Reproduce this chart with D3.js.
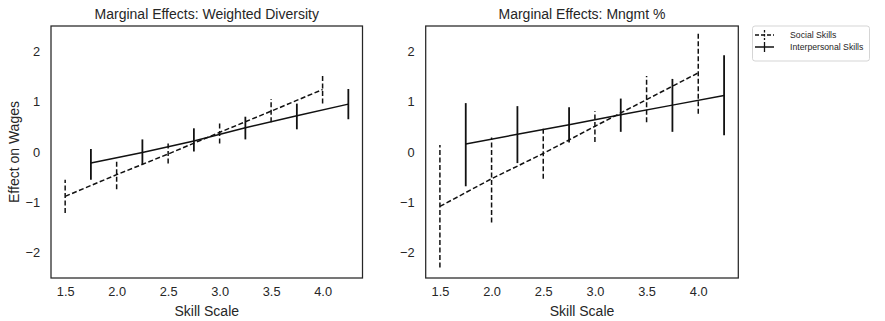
<!DOCTYPE html>
<html>
  <head>
    <script src="https://d3js.org/d3.v7.min.js"></script>
    <style>
      body,
      html {
        margin: 0;
        padding: 0;
        background: #fff;
        font-family: "Liberation Sans", Arial, sans-serif;
        overflow: hidden;
      }
    </style>
  </head>
  <body>
    <svg id="chart" width="885" height="321"></svg>
    <script>
      // skill scale positions for each series
      var socialX = [1.5, 2.0, 2.5, 3.0, 3.5, 4.0];
      var interX = [1.75, 2.25, 2.75, 3.25, 3.75, 4.25];

      // panel 1: weighted diversity
      var divSocial = [-0.88, -0.45, -0.04, 0.39, 0.81, 1.24];
      var divSocialLo = [-1.21, -0.74, -0.23, 0.17, 0.59, 0.96];
      var divSocialHi = [-0.55, -0.18, 0.19, 0.61, 1.05, 1.51];
      var divInter = [-0.22, -0.01, 0.22, 0.48, 0.72, 0.95];
      var divInterLo = [-0.55, -0.25, 0.01, 0.25, 0.45, 0.65];
      var divInterHi = [0.06, 0.25, 0.47, 0.7, 0.96, 1.25];

      // panel 2: mngmt %
      var mgSocial = [-1.08, -0.53, -0.03, 0.51, 1.04, 1.57];
      var mgSocialLo = [-2.29, -1.4, -0.53, 0.2, 0.59, 0.76];
      var mgSocialHi = [0.14, 0.29, 0.48, 0.81, 1.51, 2.37];
      var mgInter = [0.16, 0.35, 0.54, 0.74, 0.93, 1.12];
      var mgInterLo = [-0.68, -0.22, 0.19, 0.4, 0.4, 0.33];
      var mgInterHi = [0.97, 0.91, 0.89, 1.06, 1.45, 1.92];

      var xTicks = [1.5, 2.0, 2.5, 3.0, 3.5, 4.0];
      var yTicks = [-2, -1, 0, 1, 2];
      var titles = ["Marginal Effects: Weighted Diversity", "Marginal Effects: Mngmt %"];
      var seriesNames = ["Social Skills", "Interpersonal Skills"];

      var ink = "#262626";
      var lineCol = "#111";
      var svg = d3.select("#chart");
      var plotTop = 26, plotBottom = 278;

      var panels = [
        {
          left: 51, right: 362.5, title: titles[0], ylabel: true,
          social: [divSocial, divSocialLo, divSocialHi],
          inter: [divInter, divInterLo, divInterHi]
        },
        {
          left: 425.7, right: 738.3, title: titles[1], ylabel: false,
          social: [mgSocial, mgSocialLo, mgSocialHi],
          inter: [mgInter, mgInterLo, mgInterHi]
        }
      ];

      panels.forEach(function (p) {
        var x = d3.scaleLinear().domain([1.3625, 4.3875]).range([p.left, p.right]);
        var y = d3.scaleLinear().domain([-2.5, 2.5]).range([plotBottom, plotTop]);
        var g = svg.append("g");

        var xAxis = g.append("g")
          .attr("transform", "translate(0," + plotBottom + ")")
          .call(d3.axisBottom(x).tickValues(xTicks).tickFormat(d3.format(".1f")).tickSize(0).tickPadding(9));
        var yAxis = g.append("g")
          .attr("transform", "translate(" + p.left + ",0)")
          .call(d3.axisLeft(y).tickValues(yTicks).tickFormat(function (d) { return d < 0 ? "\u2212" + Math.abs(d) : d; }).tickSize(0).tickPadding(11));
        [xAxis, yAxis].forEach(function (a) {
          a.select(".domain").remove();
          a.selectAll("text")
            .attr("fill", ink)
            .style("font-size", "12.8px")
            .style("font-family", "'Liberation Sans', Arial, sans-serif");
        });

        // series: dashed social, solid interpersonal
        function drawSeries(xs, vals, dash, barWidth) {
          var pts = xs.map(function (d, i) { return [x(d), y(vals[0][i])]; });
          g.append("path")
            .attr("d", d3.line()(pts))
            .attr("fill", "none")
            .attr("stroke", lineCol)
            .attr("stroke-width", 1.5)
            .attr("stroke-dasharray", dash);
          g.selectAll(null)
            .data(xs)
            .enter()
            .append("line")
            .attr("x1", function (d) { return x(d); })
            .attr("x2", function (d) { return x(d); })
            .attr("y1", function (d, i) { return y(vals[1][i]); })
            .attr("y2", function (d, i) { return y(vals[2][i]); })
            .attr("stroke", lineCol)
            .attr("stroke-width", barWidth)
            .attr("stroke-dasharray", dash);
        }
        drawSeries(socialX, p.social, "5,2.5", 1.5);
        drawSeries(interX, p.inter, null, 1.8);

        // frame
        g.append("rect")
          .attr("x", p.left)
          .attr("y", plotTop)
          .attr("width", p.right - p.left)
          .attr("height", plotBottom - plotTop)
          .attr("fill", "none")
          .attr("stroke", ink)
          .attr("stroke-width", 1.25);

        g.append("text")
          .attr("x", (p.left + p.right) / 2)
          .attr("y", 19)
          .attr("text-anchor", "middle")
          .attr("fill", ink)
          .style("font-size", "14px")
          .text(p.title);

        g.append("text")
          .attr("x", (p.left + p.right) / 2)
          .attr("y", 316)
          .attr("text-anchor", "middle")
          .attr("fill", ink)
          .style("font-size", "14px")
          .text("Skill Scale");

        if (p.ylabel) {
          g.append("text")
            .attr("transform", "translate(19," + (plotTop + plotBottom) / 2 + ") rotate(-90)")
            .attr("text-anchor", "middle")
            .attr("fill", ink)
            .style("font-size", "14px")
            .text("Effect on Wages");
        }
      });

      // legend
      var lg = svg.append("g");
      lg.append("rect")
        .attr("x", 752.5)
        .attr("y", 26)
        .attr("width", 117)
        .attr("height", 35)
        .attr("rx", 2.5)
        .attr("fill", "#fff")
        .attr("stroke", "#d0d0d0")
        .attr("stroke-width", 0.9);
      var rows = [
        { name: seriesNames[0], dash: "4,2", cy: 35 },
        { name: seriesNames[1], dash: null, cy: 47 }
      ];
      rows.forEach(function (r) {
        lg.append("line")
          .attr("x1", 755).attr("x2", 774)
          .attr("y1", r.cy).attr("y2", r.cy)
          .attr("stroke", lineCol).attr("stroke-width", 1.5)
          .attr("stroke-dasharray", r.dash);
        lg.append("line")
          .attr("x1", 764.5).attr("x2", 764.5)
          .attr("y1", r.cy - 5).attr("y2", r.cy + 5)
          .attr("stroke", lineCol).attr("stroke-width", 1.3)
          .attr("stroke-dasharray", r.dash ? "2.5,1.5" : null);
        lg.append("text")
          .attr("x", 790)
          .attr("y", r.cy + 3)
          .attr("fill", ink)
          .style("font-size", "8.7px")
          .text(r.name);
      });
    </script>
  </body>
</html>
